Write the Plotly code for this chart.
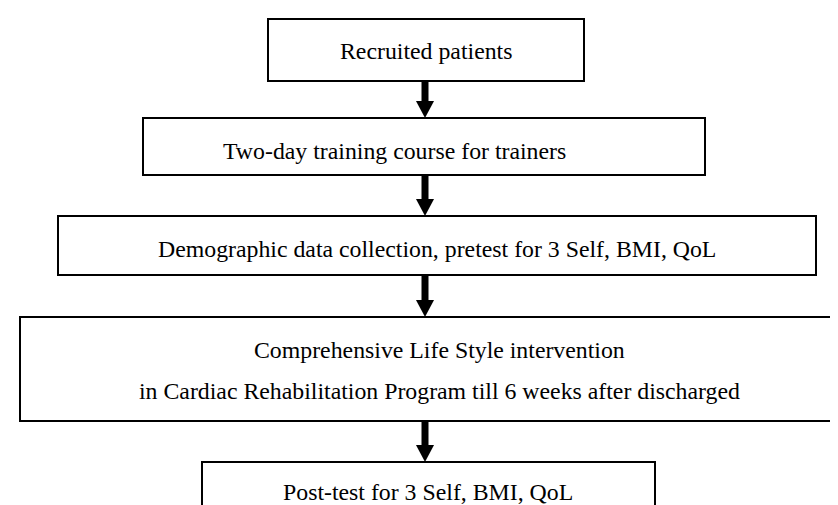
import plotly.graph_objects as go

# ---- content ----
step_labels = [
    ["Recruited patients"],
    ["Two-day training course for trainers"],
    ["Demographic data collection, pretest for 3 Self, BMI, QoL"],
    ["Comprehensive Life Style intervention",
     "in Cardiac Rehabilitation Program till 6 weeks after discharged"],
    ["Post-test for 3 Self, BMI, QoL"],
]

# ---- layout geometry (pixels, y downwards) ----
box_left = [260, 135, 50, 12, 194]
box_right = [576, 697, 808, 852, 647]
box_top = [11, 110, 208, 309, 454]
box_bottom = [73, 167, 267, 413, 540]
text_x = [418, 386, 429, 431, 420]
text_y = [[42.5], [143], [241], [342, 383], [484]]
arrow_x = 417

W, H = 838, 505
FONT = dict(family="Liberation Serif, Times New Roman, serif", size=23.8, color="black")

fig = go.Figure()
shapes = []
annotations = []
for i, lines in enumerate(step_labels):
    shapes.append(dict(type="rect", xref="x", yref="y",
                       x0=box_left[i], x1=box_right[i], y0=box_top[i], y1=box_bottom[i],
                       line=dict(color="black", width=2), fillcolor="white", layer="below"))
    for j, lab in enumerate(lines):
        annotations.append(dict(x=text_x[i], y=text_y[i][j], xref="x", yref="y", text=lab,
                                showarrow=False, xanchor="center", yanchor="middle",
                                borderpad=0, font=FONT, align="center"))

for i in range(len(step_labels) - 1):
    y0 = box_bottom[i] + 1
    y1 = box_top[i + 1]
    head = 17
    shapes.append(dict(type="rect", xref="x", yref="y",
                       x0=arrow_x - 3.5, x1=arrow_x + 3.5, y0=y0, y1=y1 - head + 1,
                       line=dict(width=0), fillcolor="black"))
    shapes.append(dict(type="path", xref="x", yref="y",
                       path=f"M {arrow_x-9},{y1-head} L {arrow_x+9},{y1-head} L {arrow_x},{y1} Z",
                       line=dict(width=0), fillcolor="black"))

fig.update_layout(
    width=W, height=H,
    margin=dict(l=0, r=0, t=0, b=0),
    paper_bgcolor="white", plot_bgcolor="white",
    xaxis=dict(range=[0, W], visible=False, fixedrange=True),
    yaxis=dict(range=[H, 0], visible=False, fixedrange=True),
    shapes=shapes, annotations=annotations,
    showlegend=False,
)

fig.write_html("out.html", config={"displayModeBar": False})
